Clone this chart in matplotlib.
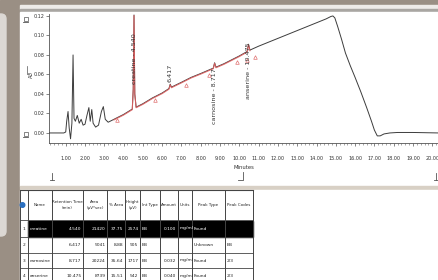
import matplotlib
matplotlib.use("Agg")
import matplotlib.pyplot as plt
from matplotlib.patches import Rectangle, FancyBboxPatch, Circle
from matplotlib.ticker import MultipleLocator, FixedLocator
import numpy as np

# ---------------- data ----------------
time_min = [0.13, 0.90, 1.00, 1.05, 1.12, 1.18, 1.25, 1.32, 1.38, 1.43, 1.50, 1.60, 1.70, 1.80,
            1.90, 2.00, 2.10, 2.20, 2.27, 2.35, 2.42, 2.55, 2.70, 2.85, 2.95, 3.05, 3.20, 3.50,
            4.00, 4.45, 4.50, 4.54, 4.58, 4.65, 5.00, 5.50, 6.00, 6.35, 6.417, 6.48, 7.00, 7.50,
            8.00, 8.65, 8.717, 8.79, 9.20, 9.60, 10.00, 10.40, 10.475, 10.55, 11.00, 11.50,
            12.00, 12.50, 13.00, 13.50, 14.00, 14.50, 14.75, 14.85, 14.95, 15.10, 15.30, 15.50,
            15.75, 16.00, 16.30, 16.60, 16.85, 17.00, 17.15, 17.30, 17.50, 17.80, 18.20, 19.00,
            20.35]
au = [0.000, 0.000, 0.001, 0.012, 0.022, 0.005, -0.006, 0.010, 0.080, 0.015, 0.012, 0.018, 0.010, 0.014,
      0.008, 0.009, 0.018, 0.026, 0.012, 0.024, 0.010, 0.006, 0.008, 0.022, 0.027, 0.014, 0.011, 0.014,
      0.019, 0.0245, 0.045, 0.121, 0.040, 0.0265, 0.030, 0.036, 0.041, 0.0455, 0.050, 0.047, 0.052, 0.057,
      0.061, 0.0665, 0.072, 0.0675, 0.071, 0.075, 0.079, 0.0835, 0.091, 0.085, 0.089, 0.093,
      0.097, 0.101, 0.105, 0.109, 0.113, 0.117, 0.1195, 0.120, 0.118, 0.109, 0.096, 0.082,
      0.069, 0.057, 0.042, 0.026, 0.012, 0.003, -0.003, -0.003, -0.001, 0.000, 0.0005, 0.0005,
      0.000]

integ_start, integ_end = 3.35, 10.90
marker_t = [3.65, 5.64, 7.22, 8.45, 9.88, 10.39, 10.80]
marker_au = [0.0133, 0.034, 0.049, 0.059, 0.073, 0.075, 0.078]

peak_rt = [4.540, 6.417, 8.717, 10.475]
peak_label = ["creatine - 4.540", "6.417", "carnosine - 8.717", "anserine - 10.475"]
peak_label_y = [0.050, 0.052, 0.066, 0.093]
peak_label_va = ["bottom", "bottom", "top", "top"]

x_ticks = list(range(1, 21))
y_ticks = [0.00, 0.02, 0.04, 0.06, 0.08, 0.10, 0.12]

headers = ["Name", "Retention Time\n(min)", "Area\n(µV*sec)", "% Area", "Height\n(µV)",
           "Int Type", "Amount", "Units", "Peak Type", "Peak Codes"]
row_no = ["1", "2", "3", "4"]
names = ["creatine", "", "carnosine", "anserine"]
ret_time = [4.540, 6.417, 8.717, 10.475]
area = [21420, 5041, 20224, 8739]
pct_area = [37.75, 8.88, 35.64, 15.51]
height = [2574, 905, 1717, 542]
int_type = ["BB", "BB", "BB", "BB"]
amount = ["0.100", "", "0.032", "0.040"]
units = ["mg/ml", "", "mg/ml", "mg/ml"]
peak_type = ["Found", "Unknown", "Found", "Found"]
peak_codes = ["", "BB", "2/3", "2/3"]

# ---------------- figure ----------------
W, H = 439, 280
fig = plt.figure(figsize=(W / 100, H / 100), dpi=100)
bg = fig.add_axes([0, 0, 1, 1])
bg.set_xlim(0, W)
bg.set_ylim(H, 0)
bg.axis("off")

frame = "#9a8f84"
bg.add_patch(Rectangle((0, 0), W, H, color=frame, zorder=0))
bg.add_patch(FancyBboxPatch((-8, 14), 14, 222, boxstyle="round,pad=0,rounding_size=5",
                            color="#dcd8d4", zorder=1))
bg.add_patch(Rectangle((20, 5), W - 20, 4, color="#eeebe8", zorder=1))
bg.add_patch(Rectangle((20, 9), W - 20, 3, color="#a9a6a2", zorder=1))
bg.add_patch(Rectangle((20, 12), W - 20, 174, color="white", zorder=1))
bg.add_patch(Rectangle((20, 186), W - 20, 4, color="#d8d0c5", zorder=1))
bg.add_patch(Rectangle((20, 190), W - 20, 90, color="white", zorder=1))

# small navigation icons
for yy in (19, 134):
    bg.add_patch(Rectangle((24, yy - 2.5), 4, 4, fill=False, ec="#555", lw=0.5, zorder=2))
    bg.plot([23.5, 28.5], [yy + 3, yy + 3], color="#555", lw=0.6, zorder=2)
bg.plot([52, 52], [173, 180], color="#555", lw=0.6, zorder=2)
bg.plot([50, 54], [180, 180], color="#555", lw=0.6, zorder=2)
bg.plot([243, 243, 238], [172, 180, 180], color="#555", lw=0.6, zorder=2)
bg.plot([436, 436], [173, 180], color="#555", lw=0.6, zorder=2)
bg.plot([434, 438], [180, 180], color="#555", lw=0.6, zorder=2)
bg.text(31.5, 75, "AU", rotation=90, fontsize=3.6, color="#333", ha="center", va="center", zorder=2)
bg.plot([27, 27, 29], [66, 74, 74], color="#555", lw=0.5, zorder=2)

# ---------------- chromatogram ----------------
px_left, px_right, px_top, px_bot = 49, 439, 14, 143
ax = fig.add_axes([px_left / W, 1 - px_bot / H, (px_right - px_left) / W, (px_bot - px_top) / H])
ax.set_facecolor("none")
ax.set_xlim(0.133, 20.35)
ax.set_ylim(-0.0103, 0.122)
for s in ("top", "right"):
    ax.spines[s].set_visible(False)
for s in ("left", "bottom"):
    ax.spines[s].set_color("#555")
    ax.spines[s].set_linewidth(0.6)

t = np.array(time_min)
a = np.array(au)
ax.plot(t, a, color="#3c3c3c", lw=0.7, zorder=3)
m = (t >= integ_start) & (t <= integ_end)
ax.plot(t[m], a[m] - 0.0006, color="#e06060", lw=0.8, zorder=4, alpha=0.9)
ax.plot(marker_t, marker_au, linestyle="none", marker="^", ms=2.6, mfc="none",
        mec="#e07070", mew=0.5, zorder=4)

for rt, lab, ly, va in zip(peak_rt, peak_label, peak_label_y, peak_label_va):
    ax.text(rt, ly, lab, rotation=90, ha="center", va=va, fontsize=4.6, color="#333", zorder=5)

ax.xaxis.set_major_locator(FixedLocator(x_ticks))
ax.set_xticklabels([f"{v:.2f}" for v in x_ticks])
ax.xaxis.set_minor_locator(MultipleLocator(0.2))
ax.yaxis.set_major_locator(FixedLocator(y_ticks))
ax.set_yticklabels([f"{v:.2f}" for v in y_ticks])
ax.tick_params(axis="both", which="major", labelsize=3.5, length=2, width=0.5,
               colors="#555", labelcolor="#333", pad=1.5)
ax.tick_params(axis="x", which="minor", length=1.3, width=0.4, colors="#666")
ax.tick_params(axis="x", which="major", pad=7)
ax.set_xlabel("Minutes", fontsize=3.8, color="#333", labelpad=3)

# ---------------- table ----------------
col_x = [20, 28, 52, 83, 107, 125, 140, 160, 178, 192, 225, 253]
row_y = [190, 220, 237, 253, 268, 284]
tcolor = "#444"
bg.add_patch(Rectangle((28, row_y[1] + 1), col_x[-1] - 28, row_y[2] - row_y[1] - 1,
                       color="black", zorder=3))
for x in col_x:
    bg.plot([x, x], [row_y[0], H], color=tcolor, lw=0.7, zorder=4)
for y in row_y[:-1]:
    bg.plot([col_x[0], col_x[-1]], [y, y], color=tcolor, lw=0.8 if y == 190 else 0.6, zorder=4)
bg.add_patch(Circle((22.5, 205), 2.3, color="#2a6fc0", zorder=5))

for i, h in enumerate(headers):
    cx = (col_x[i + 1] + col_x[i + 2]) / 2
    bg.text(cx, 205, h, fontsize=2.9, ha="center", va="center", color="#222",
            linespacing=1.6, zorder=5)

fs = 3.2
for r in range(4):
    cy = (row_y[r + 1] + row_y[r + 2]) / 2
    c = "white" if r == 0 else "#222"
    bg.text(24, cy, row_no[r], fontsize=fs, ha="center", va="center", color="#222", zorder=5)
    cells = [
        (names[r], "left"),
        (f"{ret_time[r]:.3f}", "right"),
        (f"{area[r]}", "right"),
        (f"{pct_area[r]:.2f}", "right"),
        (f"{height[r]}", "right"),
        (int_type[r], "left"),
        (amount[r], "right"),
        (units[r], "left"),
        (peak_type[r], "left"),
        (peak_codes[r], "left"),
    ]
    for j, (txt, al) in enumerate(cells):
        x0, x1 = col_x[j + 1], col_x[j + 2]
        xx = x0 + 1.5 if al == "left" else x1 - 1.5
        bg.text(xx, cy, txt, fontsize=fs, ha=al, va="center", color=c, zorder=5)

fig.savefig("out.png", dpi=100)
